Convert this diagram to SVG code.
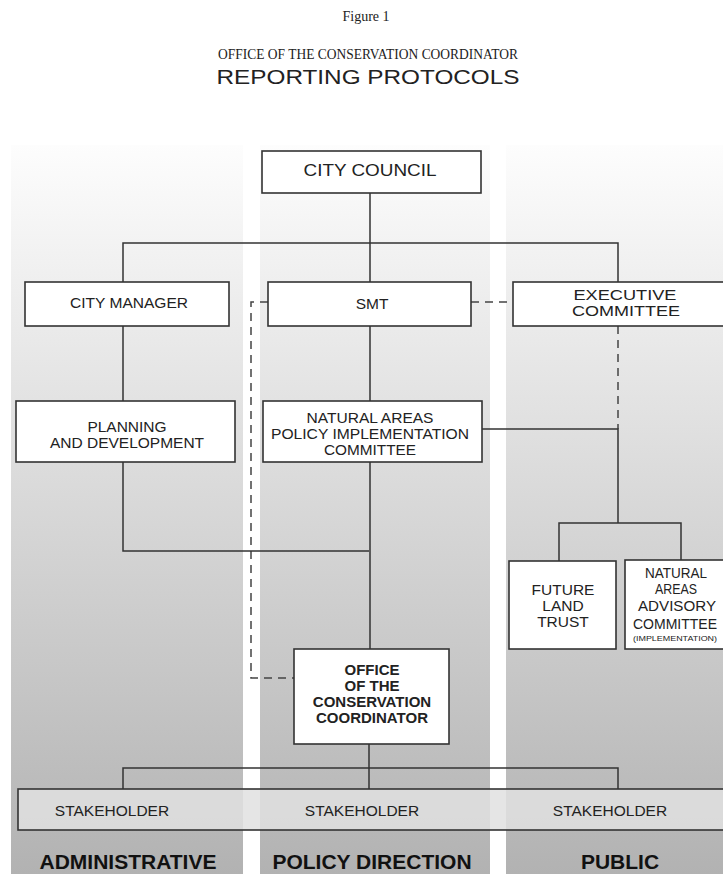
<svg xmlns="http://www.w3.org/2000/svg" width="723" height="874" viewBox="0 0 723 874">
<style>
.box{fill:#fff;stroke:#333;stroke-width:1.6}
.t{font-family:"Liberation Sans",Arial,sans-serif;font-size:15.5px;fill:#222;text-anchor:middle}
.b{font-weight:bold}
.c{fill:none;stroke:#333;stroke-width:1.5}
.d{fill:none;stroke:#444;stroke-width:1.5;stroke-dasharray:8 6}
.serif{font-family:"Liberation Serif","Times New Roman",serif;fill:#222;text-anchor:middle}
.lab{font-family:"Liberation Sans",Arial,sans-serif;font-size:21px;font-weight:bold;fill:#111;text-anchor:middle}
</style>
<defs>
<linearGradient id="band" x1="0" y1="145" x2="0" y2="874" gradientUnits="userSpaceOnUse">
<stop offset="0" stop-color="#fdfdfd"/>
<stop offset="1" stop-color="#b2b2b2"/>
</linearGradient>
</defs>
<rect width="723" height="874" fill="#fff"/>
<g id="title">
<text class="serif" x="366" y="21" font-size="14">Figure 1</text>
<text class="serif" x="368" y="59" font-size="15" textLength="300" lengthAdjust="spacingAndGlyphs">OFFICE OF THE CONSERVATION COORDINATOR</text>
<text class="t" x="368" y="84" style="font-size:21px" textLength="303" lengthAdjust="spacingAndGlyphs">REPORTING PROTOCOLS</text>
</g>
<g id="bands">
<rect x="11" y="145" width="232" height="729" fill="url(#band)"/>
<rect x="260" y="145" width="230" height="729" fill="url(#band)"/>
<rect x="506" y="145" width="217" height="729" fill="url(#band)"/>
</g>
<g id="connectors">
<path class="c" d="M370,193 V282 M123,282 V243 H618 V282"/>
<path class="c" d="M123,326 V401 M370,326 V401"/>
<path class="d" d="M471,302 H513"/>
<path class="d" d="M268,302 H251 V678 H294"/>
<path class="d" d="M618,326 V429"/>
<path class="c" d="M482,429 H618 V523 M559,561 V523 H681 V560"/>
<path class="c" d="M123,462 V551 H369 M370,462 V649"/>
<path class="c" d="M369,744 V789 M123,789 V768 H618 V789"/>
</g>
<g id="city-council">
<rect class="box" x="262" y="151" width="219" height="42"/>
<text class="t" x="370" y="176" style="font-size:16.5px" textLength="133" lengthAdjust="spacingAndGlyphs">CITY COUNCIL</text>
</g>
<g id="city-manager">
<rect class="box" x="25" y="282" width="204" height="44"/>
<text class="t" x="129" y="308" textLength="118" lengthAdjust="spacingAndGlyphs">CITY MANAGER</text>
</g>
<g id="smt">
<rect class="box" x="268" y="282" width="203" height="44"/>
<text class="t" x="372" y="309">SMT</text>
</g>
<g id="executive-committee">
<rect class="box" x="513" y="282" width="230" height="44"/>
<text class="t" x="625" y="300" textLength="103" lengthAdjust="spacingAndGlyphs">EXECUTIVE</text>
<text class="t" x="626" y="316" textLength="108" lengthAdjust="spacingAndGlyphs">COMMITTEE</text>
</g>
<g id="planning">
<rect class="box" x="16" y="401" width="219" height="61"/>
<text class="t" x="127" y="432">PLANNING</text>
<text class="t" x="127" y="448">AND DEVELOPMENT</text>
</g>
<g id="napic">
<rect class="box" x="263" y="401" width="219" height="61"/>
<text class="t" x="370" y="423" textLength="127" lengthAdjust="spacingAndGlyphs">NATURAL AREAS</text>
<text class="t" x="370" y="439" textLength="198" lengthAdjust="spacingAndGlyphs">POLICY IMPLEMENTATION</text>
<text class="t" x="370" y="455" textLength="92" lengthAdjust="spacingAndGlyphs">COMMITTEE</text>
</g>
<g id="future-land-trust">
<rect class="box" x="509" y="561" width="107" height="88"/>
<text class="t" x="563" y="595">FUTURE</text>
<text class="t" x="563" y="611">LAND</text>
<text class="t" x="563" y="627">TRUST</text>
</g>
<g id="naac">
<rect class="box" x="625" y="560" width="110" height="89"/>
<text class="t" x="676" y="578" textLength="62" lengthAdjust="spacingAndGlyphs">NATURAL</text>
<text class="t" x="676" y="594" textLength="42" lengthAdjust="spacingAndGlyphs">AREAS</text>
<text class="t" x="677" y="611" textLength="78" lengthAdjust="spacingAndGlyphs">ADVISORY</text>
<text class="t" x="675" y="629" style="font-size:14.5px" textLength="84" lengthAdjust="spacingAndGlyphs">COMMITTEE</text>
<text class="t" x="675" y="641" style="font-size:8px" textLength="84" lengthAdjust="spacingAndGlyphs">(IMPLEMENTATION)</text>
</g>
<g id="occ">
<rect class="box" x="294" y="649" width="155" height="95"/>
<text class="t b" x="372" y="675" style="font-size:15px">OFFICE</text>
<text class="t b" x="372" y="691" style="font-size:15px">OF THE</text>
<text class="t b" x="372" y="707" style="font-size:15px">CONSERVATION</text>
<text class="t b" x="372" y="723" style="font-size:15px">COORDINATOR</text>
</g>
<g id="stakeholders">
<rect x="18" y="789" width="725" height="41" fill="#e0e0e0" fill-opacity="0.85" stroke="#333" stroke-width="1.6"/>
<text class="t" x="112" y="816">STAKEHOLDER</text>
<text class="t" x="362" y="816">STAKEHOLDER</text>
<text class="t" x="610" y="816">STAKEHOLDER</text>
</g>
<g id="labels">
<text class="lab" x="128" y="869">ADMINISTRATIVE</text>
<text class="lab" x="372" y="869">POLICY DIRECTION</text>
<text class="lab" x="620" y="869">PUBLIC</text>
</g>
</svg>
